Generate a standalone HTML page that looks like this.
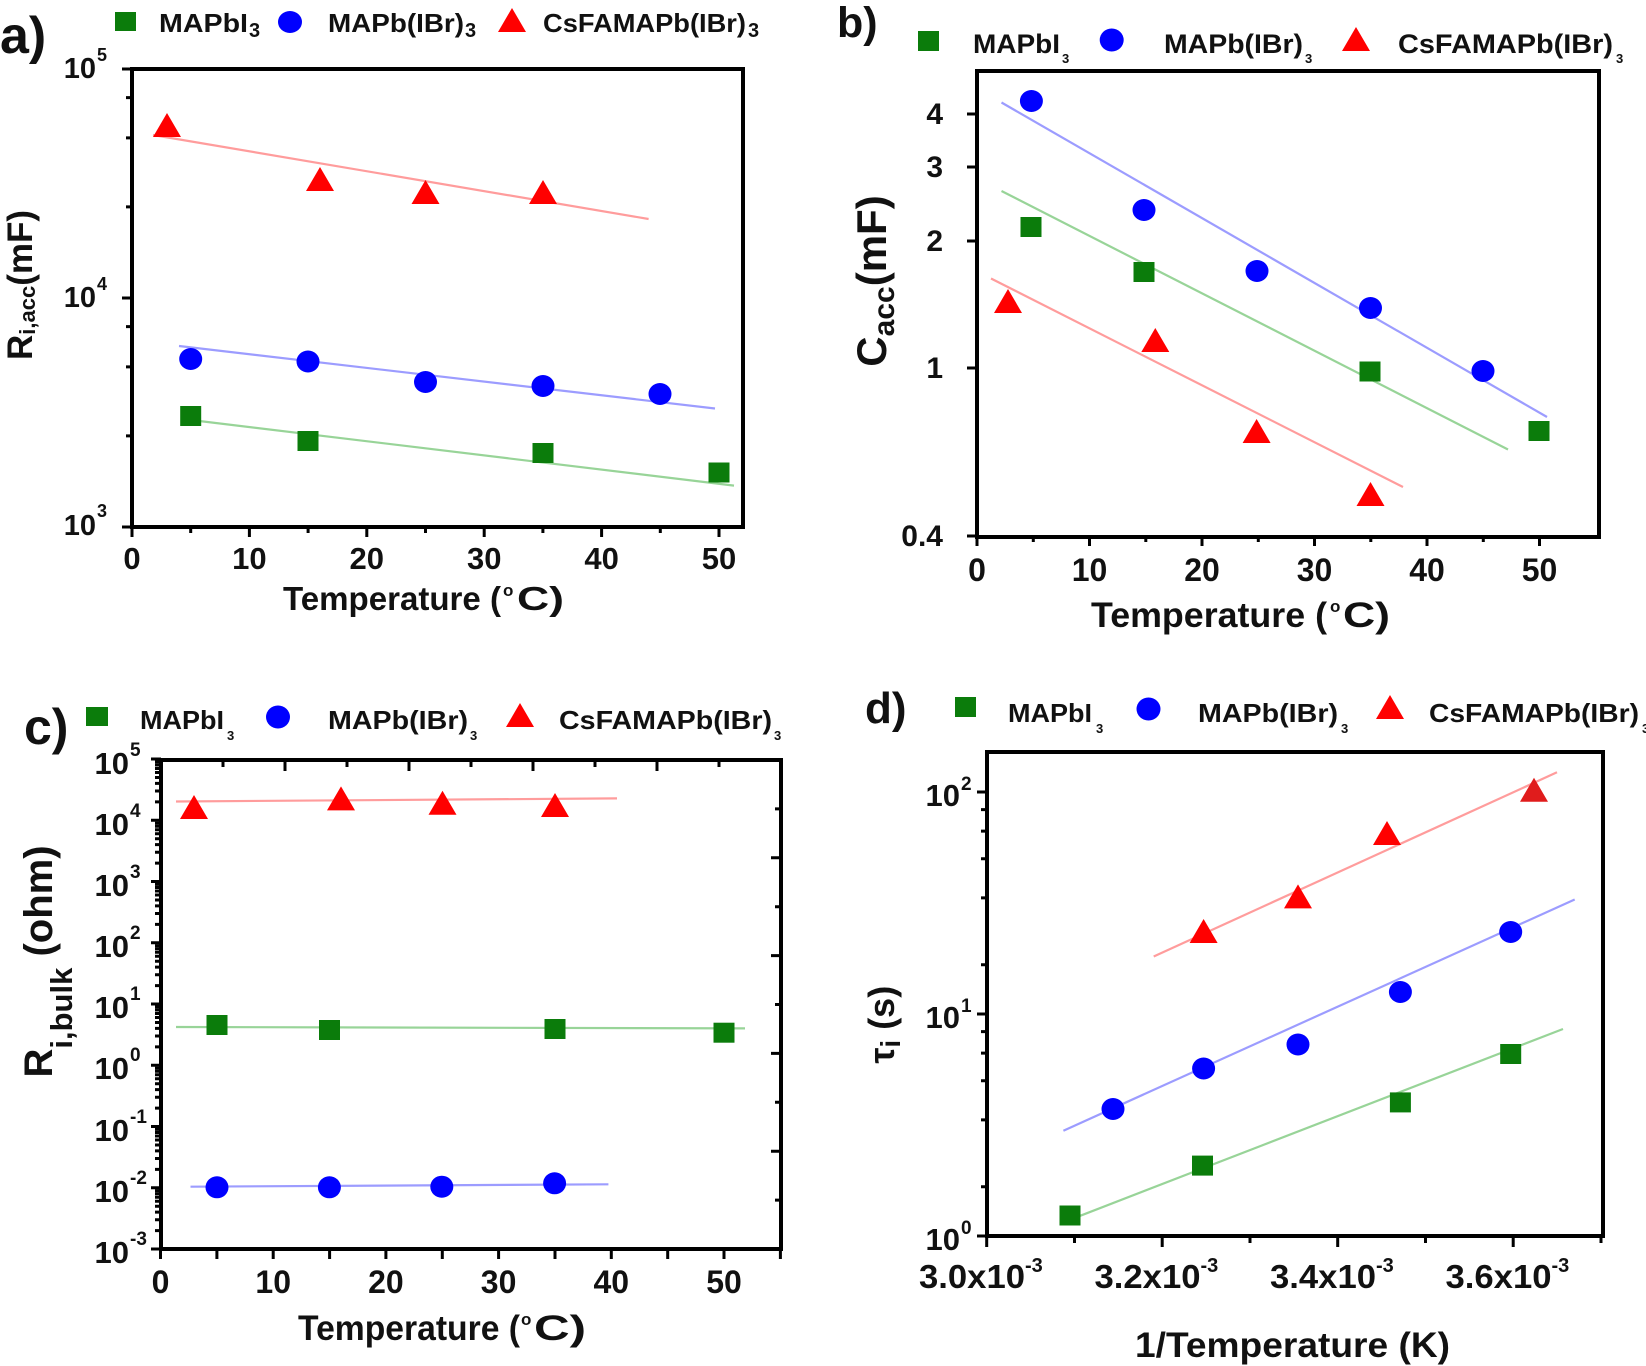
<!DOCTYPE html>
<html><head><meta charset="utf-8"><style>
html,body{margin:0;padding:0;background:#fff;}
svg{display:block;}
text{font-family:"Liberation Sans",Arial,sans-serif;font-weight:bold;fill:#111;}
.ax{fill:none;stroke:#000;stroke-width:4;}
.tk{fill:none;stroke:#000;stroke-width:3;}
.sq{fill:#0b7c0b;}
.ci{fill:#0000ff;}
.tr{fill:#ff0000;}
.lg{stroke:#98d498;stroke-width:2.2;fill:none;}
.lb{stroke:#9c9cff;stroke-width:2.2;fill:none;}
.lr{stroke:#ff9c9c;stroke-width:2.2;fill:none;}
</style></head><body>
<svg width="1646" height="1366" viewBox="0 0 1646 1366" xmlns="http://www.w3.org/2000/svg">
<rect width="1646" height="1366" fill="#fff"/>

<!-- ================= PANEL A ================= -->
<text x="0" y="53" font-size="52">a)</text>
<rect class="sq" x="115" y="12" width="21" height="19"/>
<text x="159" y="32" font-size="26" textLength="89" lengthAdjust="spacingAndGlyphs">MAPbI</text>
<text x="249" y="37" font-size="20">3</text>
<ellipse class="ci" cx="290" cy="22" rx="12" ry="11"/>
<text x="328" y="32" font-size="26" textLength="136" lengthAdjust="spacingAndGlyphs">MAPb(IBr)</text>
<text x="465" y="37" font-size="20">3</text>
<polygon class="tr" points="512,8 526,32 498,32"/>
<text x="543" y="32" font-size="26" textLength="203" lengthAdjust="spacingAndGlyphs">CsFAMAPb(IBr)</text>
<text x="748" y="37" font-size="20">3</text>

<path class="lr" d="M153 135L648.6 219"/>
<path class="lb" d="M179 346L715 408.5"/>
<path class="lg" d="M191 420L734 485.6"/>
<polygon class="tr" points="167,113 181,137 153,137"/>
<polygon class="tr" points="320,167 334,191 306,191"/>
<polygon class="tr" points="425.5,180 439.5,204 411.5,204"/>
<polygon class="tr" points="543,180 557,204 529,204"/>
<ellipse class="ci" cx="190.7" cy="359" rx="11.5" ry="11"/>
<ellipse class="ci" cx="308" cy="361.5" rx="11.5" ry="11"/>
<ellipse class="ci" cx="425.5" cy="382" rx="11.5" ry="11"/>
<ellipse class="ci" cx="543" cy="386" rx="11.5" ry="11"/>
<ellipse class="ci" cx="660" cy="394" rx="11.5" ry="11"/>
<rect class="sq" x="180.2" y="406" width="21" height="20"/>
<rect class="sq" x="297.5" y="431" width="21" height="20"/>
<rect class="sq" x="532.5" y="443" width="21" height="20"/>
<rect class="sq" x="708.5" y="462.5" width="21" height="20"/>

<rect class="ax" x="132" y="69" width="611" height="458"/>
<path class="tk" d="M132 527V537M249.4 527V537M366.8 527V537M484.2 527V537M601.6 527V537M719 527V537
M190.7 527V533M308.1 527V533M425.5 527V533M542.9 527V533M660.3 527V533
M122 527H132M122 298H132M122 69H132
M126 435.9H132M126 366.9H132M126 326.6H132M126 206.9H132M126 137.9H132M126 97.6H132"/>
<g font-size="31" text-anchor="middle">
<text x="132" y="569">0</text><text x="249.4" y="569">10</text><text x="366.8" y="569">20</text>
<text x="484.2" y="569">30</text><text x="601.6" y="569">40</text><text x="719" y="569">50</text>
</g>
<g font-size="29" text-anchor="end">
<text x="96" y="78">10</text><text x="96" y="307">10</text><text x="96" y="535">10</text>
</g>
<g font-size="18">
<text x="97" y="61">5</text><text x="97" y="290">4</text><text x="97" y="517">3</text>
</g>
<text x="283" y="610" font-size="33" textLength="218" lengthAdjust="spacingAndGlyphs">Temperature (</text>
<text x="503" y="596" font-size="17">o</text>
<text x="517" y="610" font-size="33" textLength="47" lengthAdjust="spacingAndGlyphs">C)</text>
<g transform="translate(32,285) rotate(-90)">
<text x="0" y="0" font-size="35" text-anchor="middle">R<tspan font-size="22" dy="3">i,acc</tspan><tspan dy="-3">(mF)</tspan></text>
</g>

<!-- ================= PANEL B ================= -->
<text x="837" y="37" font-size="43">b)</text>
<rect class="sq" x="918" y="31" width="21" height="20"/>
<text x="973" y="53" font-size="27" textLength="87" lengthAdjust="spacingAndGlyphs">MAPbI</text>
<text x="1062" y="63" font-size="13">3</text>
<ellipse class="ci" cx="1111.7" cy="40" rx="12" ry="11.5"/>
<text x="1164" y="53" font-size="27" textLength="139" lengthAdjust="spacingAndGlyphs">MAPb(IBr)</text>
<text x="1305" y="63" font-size="13">3</text>
<polygon class="tr" points="1356,27 1370,51 1342,51"/>
<text x="1398" y="53" font-size="27" textLength="215" lengthAdjust="spacingAndGlyphs">CsFAMAPb(IBr)</text>
<text x="1616" y="63" font-size="13">3</text>

<path class="lb" d="M1001.5 102.5L1547 417"/>
<path class="lg" d="M1001.5 191L1508 449.5"/>
<path class="lr" d="M991 278.5L1403 487"/>
<ellipse class="ci" cx="1031.4" cy="101" rx="11.5" ry="11"/>
<ellipse class="ci" cx="1144" cy="210" rx="11.5" ry="11"/>
<ellipse class="ci" cx="1257" cy="271" rx="11.5" ry="11"/>
<ellipse class="ci" cx="1370.5" cy="308" rx="11.5" ry="11"/>
<ellipse class="ci" cx="1483" cy="371" rx="11.5" ry="11"/>
<rect class="sq" x="1020.5" y="217" width="21" height="20"/>
<rect class="sq" x="1133.5" y="262" width="21" height="20"/>
<rect class="sq" x="1359.5" y="361.5" width="21" height="20"/>
<rect class="sq" x="1528.5" y="421" width="21" height="20"/>
<polygon class="tr" points="1008,289 1022,313 994,313"/>
<polygon class="tr" points="1155.3,328 1169.3,352 1141.3,352"/>
<polygon class="tr" points="1256.6,419 1270.6,443 1242.6,443"/>
<polygon class="tr" points="1370.5,482 1384.5,506 1356.5,506"/>

<rect class="ax" x="977" y="71" width="622" height="466"/>
<path class="tk" d="M977 537V546M1089.5 537V546M1202 537V546M1314.5 537V546M1427 537V546M1539.5 537V546
M1033.3 537V542M1145.8 537V542M1258.3 537V542M1370.8 537V542M1483.3 537V542
M967 114H977M967 167H977M967 241H977M967 368H977M967 536H977"/>
<g font-size="32" text-anchor="middle">
<text x="977" y="581">0</text><text x="1089.5" y="581">10</text><text x="1202" y="581">20</text>
<text x="1314.5" y="581">30</text><text x="1427" y="581">40</text><text x="1539.5" y="581">50</text>
</g>
<g font-size="30" text-anchor="end">
<text x="943" y="124">4</text><text x="943" y="177">3</text><text x="943" y="251">2</text>
<text x="943" y="378">1</text><text x="943" y="546">0.4</text>
</g>
<text x="1091" y="627" font-size="35" textLength="236" lengthAdjust="spacingAndGlyphs">Temperature (</text>
<text x="1330" y="612" font-size="17">o</text>
<text x="1343" y="627" font-size="35" textLength="47" lengthAdjust="spacingAndGlyphs">C)</text>
<g transform="translate(886,281) rotate(-90)">
<text x="0" y="0" font-size="42" text-anchor="middle">C<tspan font-size="30" dy="8">acc</tspan><tspan dy="-8">(mF)</tspan></text>
</g>

<!-- ================= PANEL C ================= -->
<text x="24" y="744" font-size="50">c)</text>
<rect class="sq" x="86" y="707" width="22" height="19"/>
<text x="140" y="729" font-size="26" textLength="84" lengthAdjust="spacingAndGlyphs">MAPbI</text>
<text x="227" y="740" font-size="13">3</text>
<ellipse class="ci" cx="278" cy="717" rx="12" ry="11.5"/>
<text x="328" y="729" font-size="26" textLength="140" lengthAdjust="spacingAndGlyphs">MAPb(IBr)</text>
<text x="470" y="740" font-size="13">3</text>
<polygon class="tr" points="520,703 534,727 506,727"/>
<text x="559" y="729" font-size="26" textLength="213" lengthAdjust="spacingAndGlyphs">CsFAMAPb(IBr)</text>
<text x="774" y="740" font-size="13">3</text>

<path class="lr" d="M176 801.5L617 798.4"/>
<path class="lg" d="M176 1027L745 1028.4"/>
<path class="lb" d="M190.5 1186.7L608.4 1184.3"/>
<polygon class="tr" points="194,795 208,819 180,819"/>
<polygon class="tr" points="341,786.4 355,810.4 327,810.4"/>
<polygon class="tr" points="442.5,790.8 456.5,814.8 428.5,814.8"/>
<polygon class="tr" points="555,793 569,817 541,817"/>
<rect class="sq" x="206.5" y="1015" width="21" height="20"/>
<rect class="sq" x="319" y="1020" width="21" height="20"/>
<rect class="sq" x="544.5" y="1019" width="21" height="20"/>
<rect class="sq" x="713.5" y="1022.7" width="21" height="20"/>
<ellipse class="ci" cx="217" cy="1187.3" rx="11.5" ry="11"/>
<ellipse class="ci" cx="329.4" cy="1187.3" rx="11.5" ry="11"/>
<ellipse class="ci" cx="441.8" cy="1186.7" rx="11.5" ry="11"/>
<ellipse class="ci" cx="554.6" cy="1183.3" rx="11.5" ry="11"/>

<rect class="ax" x="161" y="760" width="620" height="489"/>
<path class="tk" d="M160.5 1249V1259M216.9 1249V1259M273.2 1249V1259M329.6 1249V1259M385.9 1249V1259M442.3 1249V1259M498.6 1249V1259M555 1249V1259M611.3 1249V1259M667.7 1249V1259M724 1249V1259M780.4 1249V1259
M223 760V767M285 760V771M347 760V767M409 760V771M471 760V767M533 760V771M595 760V767M657 760V771M719 760V767
M781 808.9H775M781 857.8H771M781 906.7H775M781 955.6H771M781 1004.5H775M781 1053.4H771M781 1102.3H775M781 1151.2H771M781 1200.1H775
M151 1249H161M151 1187.75H161M151 1126.5H161M151 1065.25H161M151 1004H161M151 942.75H161M151 881.5H161M151 820.25H161M151 759H161"/>
<path class="tk" stroke-width="2.5" d="M155 1230.6H161M155 1219.8H161M155 1212.1H161M155 1206.2H161M155 1201.3H161M155 1197.2H161M155 1193.7H161M155 1190.6H161
M155 1169.35H161M155 1158.55H161M155 1150.85H161M155 1144.95H161M155 1140.05H161M155 1135.95H161M155 1132.45H161M155 1129.35H161
M155 1108.1H161M155 1097.3H161M155 1089.6H161M155 1083.7H161M155 1078.8H161M155 1074.7H161M155 1071.2H161M155 1068.1H161
M155 1046.85H161M155 1036.05H161M155 1028.35H161M155 1022.45H161M155 1017.55H161M155 1013.45H161M155 1009.95H161M155 1006.85H161
M155 985.6H161M155 974.8H161M155 967.1H161M155 961.2H161M155 956.3H161M155 952.2H161M155 948.7H161M155 945.6H161
M155 924.35H161M155 913.55H161M155 905.85H161M155 899.95H161M155 895.05H161M155 890.95H161M155 887.45H161M155 884.35H161
M155 863.1H161M155 852.3H161M155 844.6H161M155 838.7H161M155 833.8H161M155 829.7H161M155 826.2H161M155 823.1H161
M155 801.85H161M155 791.05H161M155 783.35H161M155 777.45H161M155 772.55H161M155 768.45H161M155 764.95H161M155 761.85H161"/>
<g font-size="32" text-anchor="middle">
<text x="160.5" y="1293">0</text><text x="273.2" y="1293">10</text><text x="385.9" y="1293">20</text>
<text x="498.6" y="1293">30</text><text x="611.3" y="1293">40</text><text x="724" y="1293">50</text>
</g>
<g font-size="31" text-anchor="end">
<text x="129" y="774">10</text><text x="129" y="835">10</text><text x="129" y="896">10</text>
<text x="129" y="957">10</text><text x="129" y="1018">10</text><text x="129" y="1079">10</text>
<text x="129" y="1141">10</text><text x="129" y="1202">10</text><text x="129" y="1263">10</text>
</g>
<g font-size="19">
<text x="130" y="756">5</text><text x="130" y="817">4</text><text x="130" y="878">3</text>
<text x="130" y="939">2</text><text x="130" y="1000">1</text><text x="130" y="1061">0</text>
<text x="130" y="1123">-1</text><text x="130" y="1184">-2</text><text x="130" y="1245">-3</text>
</g>
<text x="298" y="1340" font-size="35" textLength="222" lengthAdjust="spacingAndGlyphs">Temperature (</text>
<text x="521" y="1325" font-size="17">o</text>
<text x="534" y="1340" font-size="35" textLength="52" lengthAdjust="spacingAndGlyphs">C)</text>
<g transform="translate(52,961.5) rotate(-90)">
<text x="0" y="0" font-size="40" text-anchor="middle">R<tspan font-size="31" dy="20">i,bulk</tspan><tspan dy="-20"> (ohm)</tspan></text>
</g>

<!-- ================= PANEL D ================= -->
<text x="865" y="723" font-size="44">d)</text>
<rect class="sq" x="955" y="697" width="21" height="20"/>
<text x="1008" y="722" font-size="26" textLength="84" lengthAdjust="spacingAndGlyphs">MAPbI</text>
<text x="1096" y="733" font-size="13">3</text>
<ellipse class="ci" cx="1148.5" cy="709" rx="12" ry="11.5"/>
<text x="1198" y="722" font-size="26" textLength="140" lengthAdjust="spacingAndGlyphs">MAPb(IBr)</text>
<text x="1341" y="733" font-size="13">3</text>
<polygon class="tr" points="1390,695 1404,719 1376,719"/>
<text x="1429" y="722" font-size="26" textLength="210" lengthAdjust="spacingAndGlyphs">CsFAMAPb(IBr)</text>
<text x="1642" y="733" font-size="13">3</text>

<path class="lr" d="M1153.7 956.5L1557 772.3"/>
<path class="lb" d="M1063.4 1130.7L1574.7 899.5"/>
<path class="lg" d="M1075 1217.8L1563 1029"/>
<polygon class="tr" points="1203.6,919 1217.6,943 1189.6,943"/>
<polygon class="tr" points="1298,884.4 1312,908.4 1284,908.4"/>
<polygon class="tr" points="1387,821 1401,845 1373,845"/>
<polygon points="1534,777.7 1548,801.7 1520,801.7" fill="#e01c1c"/>
<ellipse class="ci" cx="1113" cy="1109" rx="11.5" ry="11"/>
<ellipse class="ci" cx="1203.6" cy="1068.5" rx="11.5" ry="11"/>
<ellipse class="ci" cx="1298" cy="1044.5" rx="11.5" ry="11"/>
<ellipse class="ci" cx="1400.4" cy="992" rx="11.5" ry="11"/>
<ellipse class="ci" cx="1510.7" cy="932" rx="11.5" ry="11"/>
<rect class="sq" x="1059.5" y="1205.5" width="21" height="20"/>
<rect class="sq" x="1192" y="1155.6" width="21" height="20"/>
<rect class="sq" x="1389.9" y="1092.4" width="21" height="20"/>
<rect class="sq" x="1500.2" y="1044" width="21" height="20"/>

<rect class="ax" x="987" y="752" width="616" height="484"/>
<path class="tk" d="M986.7 1236V1247M1162.2 1236V1247M1337.7 1236V1247M1513.2 1236V1247
M1074.5 1236V1243M1250 1236V1243M1425.5 1236V1243M1601 1236V1243
M977 1236H987M977 1014H987M977 792H987
M981 1186.8H987M981 1119.9H987M981 1080.8H987M981 1053.1H987M981 1031.6H987
M981 964.8H987M981 897.9H987M981 858.8H987M981 831.1H987M981 809.6H987"/>
<g font-size="33">
<text x="919" y="1288" textLength="106" lengthAdjust="spacingAndGlyphs">3.0x10</text>
<text x="1094.5" y="1288" textLength="106" lengthAdjust="spacingAndGlyphs">3.2x10</text>
<text x="1270" y="1288" textLength="106" lengthAdjust="spacingAndGlyphs">3.4x10</text>
<text x="1445.5" y="1288" textLength="106" lengthAdjust="spacingAndGlyphs">3.6x10</text>
</g>
<g font-size="20">
<text x="1025" y="1272">-3</text><text x="1200.5" y="1272">-3</text>
<text x="1376" y="1272">-3</text><text x="1551.5" y="1272">-3</text>
</g>
<g font-size="31" text-anchor="end">
<text x="960" y="806">10</text><text x="960" y="1028">10</text><text x="960" y="1250">10</text>
</g>
<g font-size="19">
<text x="961" y="790">2</text><text x="961" y="1012">1</text><text x="961" y="1234">0</text>
</g>
<text x="1135" y="1357" font-size="35" textLength="315" lengthAdjust="spacingAndGlyphs">1/Temperature (K)</text>
<g transform="translate(894,1024.75) rotate(-90)">
<text x="0" y="0" font-size="36" text-anchor="middle">τ<tspan font-size="28" dy="6">i</tspan><tspan dy="-6"> (s)</tspan></text>
</g>

</svg>
</body></html>
